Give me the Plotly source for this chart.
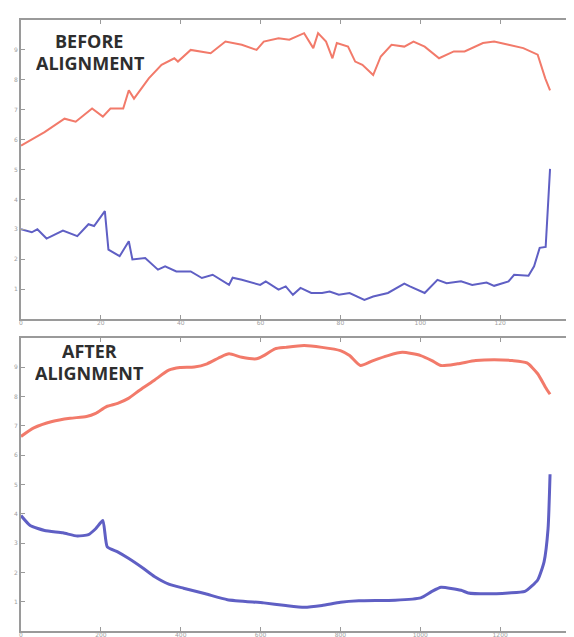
import plotly.graph_objects as go

# ---------------- data ----------------
before_red_x = [0, 5.9, 10.9, 13.7, 17.8, 20.5, 22.4, 25.6, 27.0, 28.3, 32.0, 35.2, 38.4, 39.3, 42.5,
                47.5, 51.2, 55.3, 59.0, 60.8, 64.5, 67.2, 70.9, 73.2, 74.4, 76.4, 78.0, 79.1, 81.9,
                83.7, 85.5, 88.2, 90.1, 92.8, 96.0, 98.3, 101.1, 104.7, 108.4, 111.1, 115.7, 118.5,
                122.1, 125.8, 129.4, 131.3, 132.5]
before_red_y = [5.80, 6.25, 6.70, 6.60, 7.04, 6.77, 7.04, 7.04, 7.65, 7.37, 8.05, 8.50, 8.72, 8.61, 9.00,
                8.89, 9.28, 9.17, 9.00, 9.28, 9.39, 9.34, 9.56, 9.06, 9.56, 9.28, 8.72, 9.23, 9.11,
                8.61, 8.50, 8.16, 8.78, 9.17, 9.11, 9.28, 9.11, 8.72, 8.95, 8.95, 9.23, 9.28,
                9.17, 9.06, 8.84, 8.05, 7.65]

before_blue_x = [0, 2.7, 4.1, 6.4, 10.5, 14.1, 16.9, 18.3, 21.0, 21.9, 24.7, 27.0, 27.9, 31.1, 34.3,
                 36.1, 38.9, 42.5, 45.3, 48.0, 52.1, 53.0, 55.3, 59.9, 61.3, 64.5, 66.3, 68.1, 70.0,
                 72.7, 75.4, 77.3, 79.6, 82.3, 86.0, 88.2, 91.9, 96.0, 97.4, 101.1, 104.3, 106.6,
                 110.2, 113.0, 116.6, 118.5, 122.1, 123.5, 127.1, 128.5, 129.9, 131.4, 132.5]
before_blue_y = [3.00, 2.90, 3.00, 2.69, 2.96, 2.77, 3.17, 3.11, 3.61, 2.32, 2.10, 2.60, 1.99, 2.04, 1.65,
                 1.76, 1.59, 1.59, 1.37, 1.48, 1.14, 1.38, 1.31, 1.14, 1.26, 0.98, 1.09, 0.81, 1.04,
                 0.87, 0.87, 0.92, 0.81, 0.87, 0.64, 0.75, 0.87, 1.18, 1.09, 0.87, 1.31, 1.20,
                 1.26, 1.14, 1.22, 1.11, 1.26, 1.48, 1.45, 1.76, 2.38, 2.41, 5.02]

after_red_x = [0, 32, 78, 123, 164, 187, 214, 242, 269, 297, 334, 370, 398, 434, 466, 498, 521, 553,
               590, 608, 636, 663, 709, 754, 800, 823, 850, 882, 919, 955, 1001, 1029, 1052, 1093,
               1139, 1185, 1230, 1267, 1294, 1313, 1325]
after_red_y = [6.64, 6.93, 7.15, 7.26, 7.32, 7.43, 7.66, 7.77, 7.94, 8.22, 8.56, 8.90, 8.99, 9.01, 9.12,
               9.34, 9.46, 9.34, 9.29, 9.40, 9.63, 9.68, 9.74, 9.68, 9.57, 9.40, 9.06, 9.23, 9.40,
               9.51, 9.40, 9.23, 9.06, 9.12, 9.23, 9.26, 9.23, 9.15, 8.78, 8.33, 8.08]

after_blue_x = [0, 23, 59, 105, 141, 169, 187, 205, 216, 242, 269, 306, 334, 370, 407, 462, 517, 608,
                663, 709, 754, 800, 846, 937, 1001, 1029, 1052, 1102, 1120, 1166, 1221, 1262, 1294,
                1310, 1320, 1325]
after_blue_y = [3.94, 3.60, 3.43, 3.35, 3.24, 3.29, 3.49, 3.77, 2.87, 2.70, 2.48, 2.14, 1.86, 1.60, 1.46,
                1.27, 1.07, 0.96, 0.87, 0.81, 0.87, 0.98, 1.03, 1.05, 1.13, 1.35, 1.49, 1.39, 1.30,
                1.27, 1.30, 1.35, 1.74, 2.36, 3.49, 5.35]

top_xticks = [0, 20, 40, 60, 80, 100, 120, 140]
bottom_xticks = [0, 200, 400, 600, 800, 1000, 1200, 1400]
y_ticks = [1, 2, 3, 4, 5, 6, 7, 8, 9]

RED = "#f27a6a"
BLUE = "#5f5fc4"
FRAME = "#9a9a9a"

fig = go.Figure()
fig.add_trace(go.Scatter(x=before_red_x, y=before_red_y, mode="lines",
                         line=dict(color=RED, width=2), xaxis="x", yaxis="y", showlegend=False))
fig.add_trace(go.Scatter(x=before_blue_x, y=before_blue_y, mode="lines",
                         line=dict(color=BLUE, width=2), xaxis="x", yaxis="y", showlegend=False))
fig.add_trace(go.Scatter(x=after_red_x, y=after_red_y, mode="lines",
                         line=dict(color=RED, width=3, shape="spline", smoothing=0.6),
                         xaxis="x2", yaxis="y2", showlegend=False))
fig.add_trace(go.Scatter(x=after_blue_x, y=after_blue_y, mode="lines",
                         line=dict(color=BLUE, width=3, shape="spline", smoothing=0.5),
                         xaxis="x2", yaxis="y2", showlegend=False))

xdom = [13 / 574, 572 / 574]
axis_common = dict(showgrid=False, zeroline=False, showline=True, linecolor=FRAME, linewidth=2,
                   mirror="allticks", ticks="inside", ticklen=4, tickcolor=FRAME, automargin=False,
                   tickfont=dict(size=6, color="#a0a0a0", family="DejaVu Sans"))

fig.update_layout(
    width=574, height=637,
    margin=dict(l=0, r=0, t=0, b=0, autoexpand=False),
    paper_bgcolor="white", plot_bgcolor="white",
    xaxis=dict(domain=xdom, range=[0, 140], tickvals=top_xticks, anchor="y",
               ticklabelstandoff=-3, **axis_common),
    yaxis=dict(domain=[1 - 311 / 637, 1 - 12 / 637], range=[0, 10], tickvals=y_ticks,
               anchor="x", **axis_common),
    xaxis2=dict(domain=xdom, range=[0, 1400], tickvals=bottom_xticks, anchor="y2",
                ticklabelstandoff=-3, **axis_common),
    yaxis2=dict(domain=[1 - 623 / 637, 1 - 330 / 637], range=[0, 10], tickvals=y_ticks,
                anchor="x2", **axis_common),
)

label_font = dict(family="Open Sans", size=18, color="#2e2e2e")
labels = [("BEFORE", 81, 33), ("ALIGNMENT", 82, 55), ("AFTER", 81, 343), ("ALIGNMENT", 81, 365)]
for txt, lx, ly in labels:
    fig.add_annotation(text="<b>" + txt + "</b>", xref="paper", yref="paper",
                       x=lx / 574, y=1 - ly / 637, showarrow=False, font=label_font,
                       xanchor="center", yanchor="middle", height=18, borderpad=0)

fig.write_html("out.html")
